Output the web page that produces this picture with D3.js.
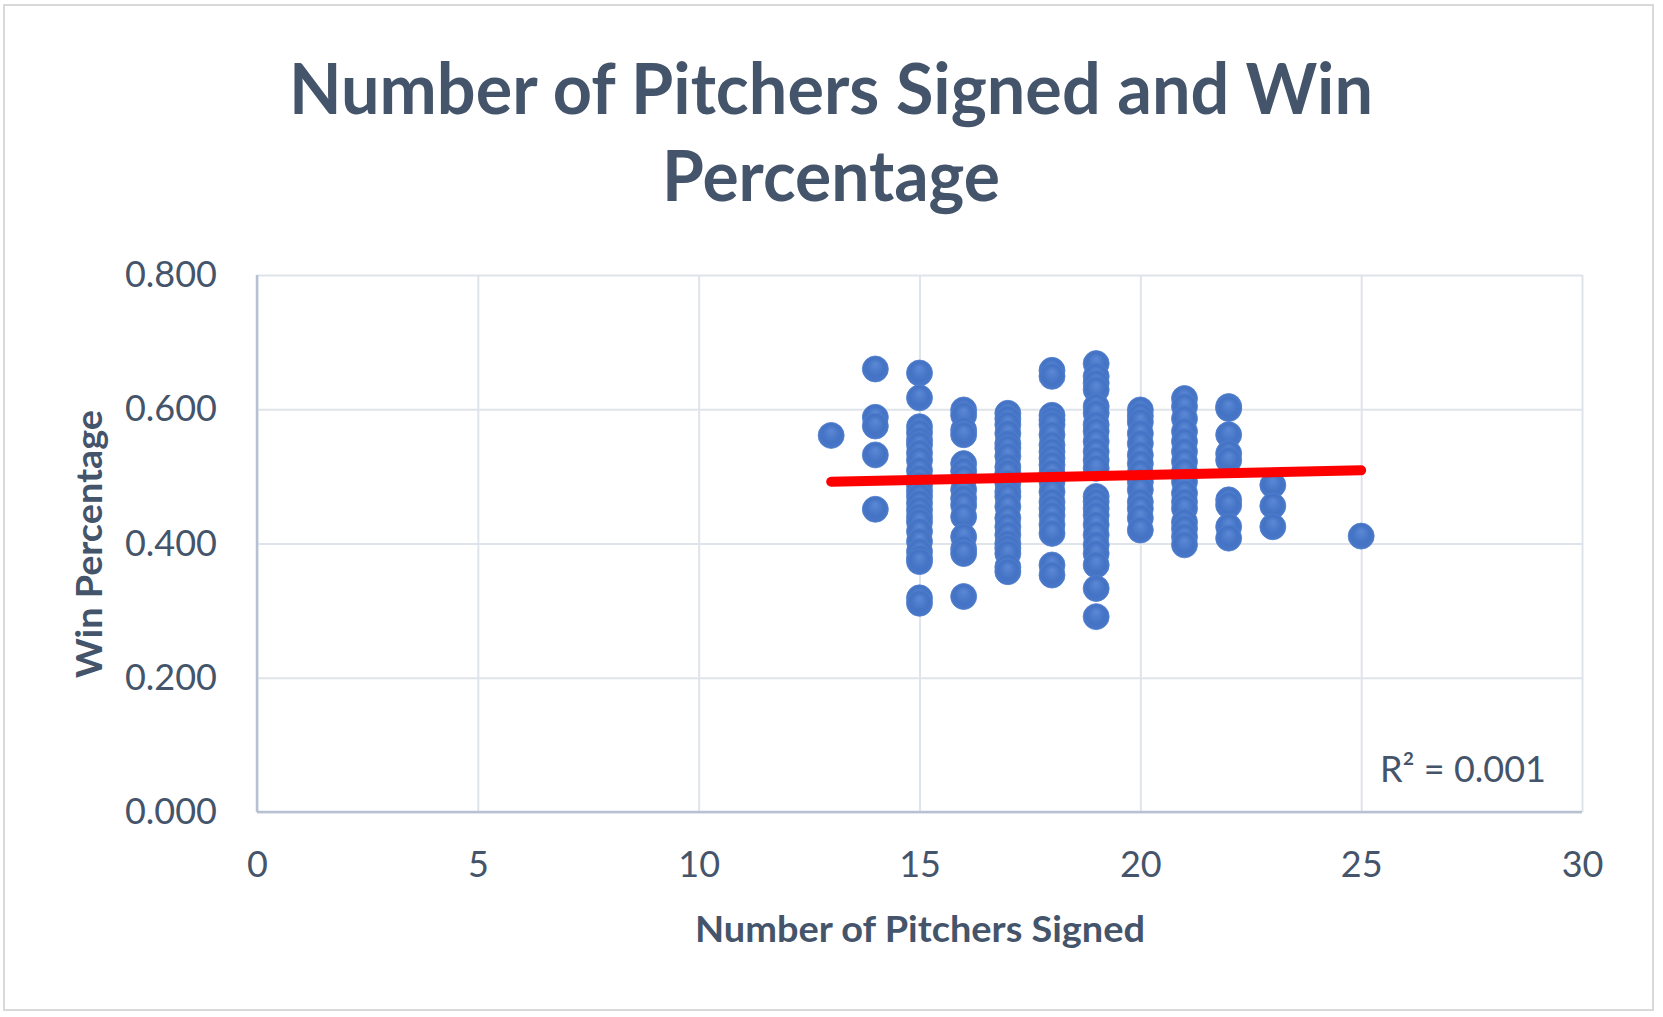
<!DOCTYPE html>
<html>
<head>
<meta charset="utf-8">
<script src="https://cdn.jsdelivr.net/npm/d3@7"></script>
<style>
  body { margin: 0; background: #fff; }
  text { font-family: Lato, "Open Sans", sans-serif; fill: #44546a; }
</style>
</head>
<body>
<div id="chart"></div>
<script>
// pitchers signed (x) and the win percentages read for each column
var signed = [13, 14, 15, 16, 17, 18, 19, 20, 21, 22, 23, 25];
var winPct = [
  [0.561],
  [0.660, 0.588, 0.575, 0.532, 0.451],
  [0.654, 0.617, 0.574, 0.565, 0.554, 0.547, 0.535, 0.524, 0.509, 0.497, 0.487, 0.478,
   0.470, 0.460, 0.450, 0.440, 0.432, 0.418, 0.403, 0.388, 0.378, 0.373, 0.319, 0.311],
  [0.599, 0.591, 0.569, 0.562, 0.519, 0.508, 0.497, 0.480, 0.467, 0.457, 0.440, 0.410,
   0.392, 0.385, 0.321],
  [0.594, 0.586, 0.577, 0.564, 0.549, 0.542, 0.530, 0.514, 0.505, 0.490, 0.477, 0.470,
   0.455, 0.438, 0.425, 0.413, 0.400, 0.393, 0.385, 0.365, 0.358],
  [0.658, 0.649, 0.591, 0.584, 0.577, 0.562, 0.547, 0.537, 0.527, 0.517, 0.505, 0.492,
   0.477, 0.462, 0.452, 0.442, 0.428, 0.415, 0.368, 0.353],
  [0.668, 0.649, 0.639, 0.629, 0.604, 0.594, 0.577, 0.567, 0.552, 0.537, 0.524, 0.512,
   0.470, 0.462, 0.452, 0.442, 0.428, 0.413, 0.398, 0.385, 0.368, 0.333, 0.291],
  [0.599, 0.590, 0.581, 0.564, 0.549, 0.532, 0.519, 0.505, 0.492, 0.480, 0.462, 0.452,
   0.438, 0.420],
  [0.616, 0.604, 0.586, 0.567, 0.552, 0.537, 0.522, 0.507, 0.492, 0.475, 0.462, 0.452,
   0.432, 0.422, 0.410, 0.398],
  [0.604, 0.601, 0.562, 0.534, 0.524, 0.465, 0.457, 0.425, 0.408],
  [0.487, 0.456, 0.425],
  [0.411]
];

// linear trendline end points, as drawn in the picture
var trendX = [13, 25];
var trendY = [0.492, 0.509];

var xTicks = [0, 5, 10, 15, 20, 25, 30];
var yTicks = [0, 0.2, 0.4, 0.6, 0.8];

var titleLines = ["Number of Pitchers Signed and Win", "Percentage"];
var xTitle = "Number of Pitchers Signed";
var yTitle = "Win Percentage";
var r2Label = "R\u00b2 = 0.001";

var W = 1663, H = 1017;
var margin = {top: 275, right: 81, bottom: 205, left: 257},
    width = W - margin.left - margin.right,
    height = H - margin.top - margin.bottom;

var svg = d3.select("#chart")
  .append("svg")
    .attr("width", W)
    .attr("height", H);

// outer chart border
svg.append("rect")
  .attr("x", 4).attr("y", 5)
  .attr("width", 1649).attr("height", 1005)
  .attr("fill", "#fff")
  .attr("stroke", "#d9d9d9")
  .attr("stroke-width", 2);

var defs = svg.append("defs");
var grad = defs.append("radialGradient")
  .attr("id", "dot")
  .attr("cx", "50%").attr("cy", "50%").attr("r", "50%")
  .attr("fx", "50%").attr("fy", "30%");
grad.append("stop").attr("offset", "0%").attr("stop-color", "#5b89d6");
grad.append("stop").attr("offset", "70%").attr("stop-color", "#4472c4");
grad.append("stop").attr("offset", "100%").attr("stop-color", "#4a78c9");

// fit a text element to the width it has in the picture
function fit(sel, w) {
  var n = sel.node().getComputedTextLength();
  if (Math.abs(n - w) / w > 0.02) {
    sel.attr("textLength", w).attr("lengthAdjust", "spacingAndGlyphs");
  }
  return sel;
}

// title
svg.append("text")
  .attr("x", 831).attr("y", 114)
  .attr("text-anchor", "middle")
  .style("font-size", "70px").style("font-weight", "bold")
  .text(titleLines[0])
  .call(fit, 1084);
svg.append("text")
  .attr("x", 831).attr("y", 201)
  .attr("text-anchor", "middle")
  .style("font-size", "70px").style("font-weight", "bold")
  .text(titleLines[1])
  .call(fit, 338);

var g = svg.append("g")
  .attr("transform", "translate(" + margin.left + "," + margin.top + ")");

var x = d3.scaleLinear().domain([0, 30]).range([0, width]);
var y = d3.scaleLinear().domain([0, 0.8]).range([height, 0]);

// Y axis with gridlines
var yAxis = g.append("g")
  .call(d3.axisLeft(y).tickValues(yTicks).tickSize(-width).tickPadding(40)
    .tickFormat(d3.format(".3f")));
yAxis.select(".domain").remove();
yAxis.selectAll("line").attr("stroke", "#dfe3ea").attr("stroke-width", 2);
yAxis.selectAll("text").style("font-size", "36px").attr("fill", "#44546a");

// X axis with gridlines
var xAxis = g.append("g")
  .attr("transform", "translate(0," + height + ")")
  .call(d3.axisBottom(x).tickValues(xTicks).tickSize(-height).tickPadding(39));
xAxis.select(".domain").remove();
xAxis.selectAll("line").attr("stroke", "#dfe3ea").attr("stroke-width", 2);
xAxis.selectAll("text").style("font-size", "36px").attr("fill", "#44546a");

// axis lines
g.append("line")
  .attr("x1", 0).attr("x2", 0).attr("y1", 0).attr("y2", height)
  .attr("stroke", "#b7c1d2").attr("stroke-width", 2.5);
g.append("line")
  .attr("x1", 0).attr("x2", width).attr("y1", height).attr("y2", height)
  .attr("stroke", "#b7c1d2").attr("stroke-width", 2.5);

// points
var points = [];
signed.forEach(function (s, i) {
  winPct[i].forEach(function (v) { points.push({x: s, y: v}); });
});

g.append("g")
  .selectAll("circle")
  .data(points)
  .enter()
  .append("circle")
    .attr("cx", function (d) { return x(d.x); })
    .attr("cy", function (d) { return y(d.y); })
    .attr("r", 13)
    .attr("fill", "url(#dot)")
    .attr("stroke", "#4f7ecd")
    .attr("stroke-width", 0.8);

// trendline
g.append("line")
  .attr("x1", x(trendX[0])).attr("y1", y(trendY[0]))
  .attr("x2", x(trendX[1])).attr("y2", y(trendY[1]))
  .attr("stroke", "#ff0000")
  .attr("stroke-width", 10)
  .attr("stroke-linecap", "round");

svg.append("text")
  .attr("x", 1380).attr("y", 782)
  .style("font-size", "36px")
  .text(r2Label)
  .call(fit, 166);

// axis titles
svg.append("text")
  .attr("x", 920).attr("y", 942)
  .attr("text-anchor", "middle")
  .style("font-size", "37px").style("font-weight", "bold")
  .text(xTitle)
  .call(fit, 450);

svg.append("text")
  .attr("transform", "translate(102,544) rotate(-90)")
  .attr("text-anchor", "middle")
  .style("font-size", "37px").style("font-weight", "bold")
  .text(yTitle)
  .call(fit, 268);
</script>
</body>
</html>
